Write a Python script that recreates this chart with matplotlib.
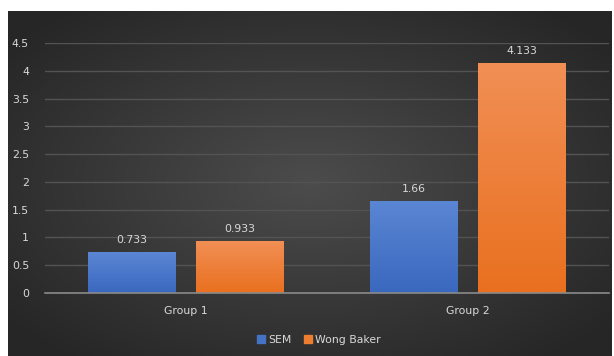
import matplotlib
matplotlib.use("Agg")
import matplotlib.pyplot as plt
import numpy as np
from matplotlib.colors import LinearSegmentedColormap
from matplotlib.patches import Patch

categories = ["Group 1", "Group 2"]
sem = [0.733, 1.66]
wong = [0.933, 4.133]
sem_labels = ["0.733", "1.66"]
wong_labels = ["0.933", "4.133"]
yticks = [0, 0.5, 1, 1.5, 2, 2.5, 3, 3.5, 4, 4.5]
ytick_labels = ["0", "0.5", "1", "1.5", "2", "2.5", "3", "3.5", "4", "4.5"]

W, H = 614, 356
fig = plt.figure(figsize=(W / 100, H / 100), dpi=100)
fig.patch.set_facecolor("white")

# background panel with radial gradient
bg = fig.add_axes([8 / W, 0, (612 - 8) / W, (356 - 11) / H])
bg.set_axis_off()
yy, xx = np.mgrid[-1:1:200j, -1:1:300j]
r = np.sqrt(xx ** 2 + yy ** 2)
r = np.clip(r / 1.3, 0, 1)
bgcmap = LinearSegmentedColormap.from_list("bg", ["#4c4c4c", "#262626"])
bg.imshow(r, cmap=bgcmap, aspect="auto", extent=[0, 1, 0, 1], vmin=0, vmax=1)
bg.set_xlim(0, 1)
bg.set_ylim(0, 1)

ax = fig.add_axes([45 / W, (H - 293) / H, (609 - 45) / W, (293 - 43) / H])
ax.patch.set_alpha(0)
x = np.arange(len(categories))
bw = 0.312
off = 0.192
b1 = ax.bar(x - off, sem, bw, color="#4472c4", zorder=3)
b2 = ax.bar(x + off, wong, bw, color="#ed7d31", zorder=3)

ax.set_xlim(-0.5, 1.5)
ax.set_ylim(0, 4.5)

def grad(bars, top, bot):
    cm = LinearSegmentedColormap.from_list("g", [bot, top])
    for b in bars:
        x0, y0 = b.get_x(), b.get_y()
        w, h = b.get_width(), b.get_height()
        g = np.linspace(0, 1, 100).reshape(-1, 1)
        im = ax.imshow(g, cmap=cm, aspect="auto", origin="lower",
                       extent=[x0, x0 + w, y0, y0 + h], zorder=3.5)
        im.set_clip_path(b)
    ax.set_xlim(-0.5, 1.5)
    ax.set_ylim(0, 4.5)

grad(b1, "#5b86d4", "#3a68be")
grad(b2, "#f18f55", "#e9701f")

fs = 7.8
txtc = "#d9d9d9"
for b, lab in zip(b1, sem_labels):
    ax.text(b.get_x() + b.get_width() / 2, b.get_height() + 0.13, lab,
            ha="center", va="bottom", color=txtc, fontsize=fs)
for b, lab in zip(b2, wong_labels):
    ax.text(b.get_x() + b.get_width() / 2, b.get_height() + 0.13, lab,
            ha="center", va="bottom", color=txtc, fontsize=fs)

ax.set_yticks(yticks)
ax.set_yticklabels(ytick_labels)
ax.set_xticks(x)
ax.set_xticklabels(categories)
ax.tick_params(axis="both", length=0, colors=txtc, labelsize=fs)
ax.tick_params(axis="y", pad=11.5)
ax.tick_params(axis="x", pad=9.5)
ax.yaxis.grid(True, color="#535353", linewidth=1.0, zorder=0)
for s in ["top", "right", "left"]:
    ax.spines[s].set_visible(False)
ax.spines["bottom"].set_color("#8a8a8a")
ax.spines["bottom"].set_linewidth(1.2)
ax.spines["bottom"].set_zorder(4)

handles = [Patch(color="#4472c4", label="SEM"), Patch(color="#ed7d31", label="Wong Baker")]
leg = fig.legend(handles=handles, loc="center", bbox_to_anchor=(319 / W, (H - 340) / H),
                 ncol=2, frameon=False, fontsize=fs, handlelength=0.75, handleheight=0.75,
                 handletextpad=0.3, columnspacing=1.1)
for t in leg.get_texts():
    t.set_color(txtc)

fig.savefig("out.png", dpi=100, facecolor=fig.get_facecolor())
